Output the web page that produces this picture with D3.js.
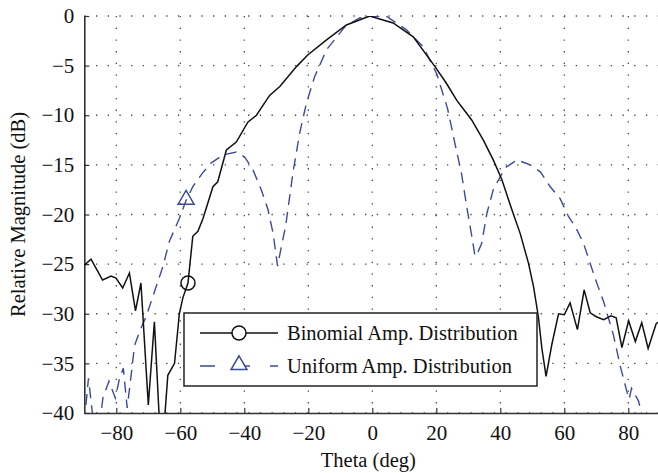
<!DOCTYPE html>
<html>
<head>
<meta charset="utf-8">
<script src="https://cdn.jsdelivr.net/npm/d3@7"></script>
<style>
  body { margin: 0; background: #fff; }
  text { font-family: "Liberation Serif", "Times New Roman", serif; }
</style>
</head>
<body>
<svg width="658" height="473"></svg>
<script>
// Binomial amplitude distribution pattern [theta (deg), dB]
const binomial = [
  [-90, -25.1], [-87.9, -24.5], [-86, -25.6], [-84.3, -26.6], [-81.6, -26.2],
  [-80.1, -26.4], [-78, -27.4], [-75.9, -25.9], [-74, -29.7], [-72.3, -26.9],
  [-70, -39.2], [-68.1, -30.8], [-66.5, -41], [-65, -41], [-63.9, -36.2],
  [-61.8, -35], [-60.3, -30], [-59.2, -28.4], [-57.6, -26.9], [-56.1, -22.2],
  [-54.5, -21.7], [-52.9, -20.4], [-49.8, -17.2], [-48.3, -16.7], [-45.6, -13.5],
  [-42.5, -12.7], [-38.9, -10.7], [-36.2, -10], [-32.1, -8], [-28.9, -7.1],
  [-23.7, -5.1], [-20.1, -3.9], [-14.3, -2.4], [-8.1, -0.9], [-0.8, 0],
  [6.5, -0.7], [12.8, -2.1], [19.6, -5.1], [23.2, -6.8], [26.4, -8.5],
  [29, -9.6], [31.1, -10.5], [34.7, -12.5], [37.8, -14.5], [40.5, -16.5],
  [43.6, -19.5], [46.2, -21.9], [48.8, -24.9], [50.4, -27.3], [51.9, -30.3],
  [53, -33.5], [54.3, -36.3], [56.1, -33.1], [58.2, -30], [60, -30.1],
  [61.8, -28.9], [64.1, -31.6], [66.2, -27.6], [68.1, -29.9], [70, -30.3],
  [72.3, -30.6], [74.6, -30.2], [76.2, -30.4], [78, -33.4], [80.1, -30.7],
  [82.2, -32.8], [84.2, -30.9], [86.2, -33.5], [88.7, -31], [90, -30.7]
];

// Uniform amplitude distribution pattern [theta (deg), dB]
const uniform = [
  [-90, -41], [-88.7, -36.5], [-87.3, -40.5], [-85.5, -42], [-84.2, -38.5],
  [-82.3, -36.8], [-80.3, -38.5], [-79, -36.5], [-77.8, -35.5], [-76.6, -39.5],
  [-75.3, -36], [-74.3, -33.2], [-72.5, -31.6], [-70.7, -30.3], [-68.1, -27.8],
  [-65.5, -25.3], [-63.4, -22.7], [-60.3, -20.4], [-58.2, -18.6], [-56.1, -17.2],
  [-53, -15.8], [-50.3, -14.8], [-46.7, -14], [-42.5, -13.7], [-39.9, -14.2],
  [-37.3, -15.5], [-34.7, -17.5], [-32.6, -19.5], [-31, -21.9], [-29.6, -25.2],
  [-28.4, -23.2], [-27.1, -21.2], [-24.8, -15.8], [-22.7, -11.8], [-20.6, -8.8],
  [-18, -6.1], [-14.3, -3.4], [-8.6, -1.1], [-4, -0.2], [0, 0],
  [4.5, -0.05], [10.7, -1.4], [15.9, -3.1], [20.1, -5.8], [23.5, -9.3],
  [25.8, -12.8], [27.9, -15.9], [29.5, -19.2], [31.1, -22.2], [32.1, -24.2],
  [33, -23.8], [34.2, -22.9], [35.8, -19.9], [37.8, -17.5], [41.5, -15.3],
  [45.2, -14.5], [49.3, -15], [52.5, -15.7], [55.6, -17.2], [58.7, -18.4],
  [61.3, -20.2], [63.4, -21.2], [66, -22.9], [69.7, -26.5], [72.3, -28.8],
  [75.4, -32.2], [77.5, -35.3], [79.6, -37.9], [80.3, -38.6], [81, -37.5],
  [83.2, -38.8], [84.5, -40.5], [86, -42], [90, -44]
];

// single marker per series, as in the original figure
const binomialMarker = [-57.6, -26.9];
const uniformMarker = [-58.2, -18.6];

const xTicks = [-80, -60, -40, -20, 0, 20, 40, 60, 80];
const yTicks = [0, -5, -10, -15, -20, -25, -30, -35, -40];
const seriesNames = ['Binomial Amp. Distribution', 'Uniform Amp. Distribution'];

const blue = '#3c4a9c';
const serif = '"Liberation Serif", "Times New Roman", serif';
const plotLeft = 84.3, plotRight = 660.3, plotTop = 16, plotBottom = 413;

const svg = d3.select('svg');

const x = d3.scaleLinear().domain([-90, 90]).range([plotLeft, plotRight]);
const y = d3.scaleLinear().domain([-40, 0]).range([plotBottom, plotTop]);

svg.append('defs').append('clipPath').attr('id', 'plot')
  .append('rect')
  .attr('x', plotLeft).attr('y', plotTop)
  .attr('width', plotRight - plotLeft).attr('height', plotBottom - plotTop);

// dotted grid
svg.append('g')
  .selectAll('line')
  .data(xTicks)
  .enter().append('line')
  .attr('x1', d => x(d)).attr('x2', d => x(d))
  .attr('y1', plotTop).attr('y2', plotBottom)
  .attr('stroke', '#444').attr('stroke-width', 1.3)
  .attr('stroke-dasharray', '1.3 10.4');

svg.append('g')
  .selectAll('line')
  .data(yTicks)
  .enter().append('line')
  .attr('x1', plotLeft).attr('x2', plotRight)
  .attr('y1', d => y(d)).attr('y2', d => y(d))
  .attr('stroke', '#444').attr('stroke-width', 1.3)
  .attr('stroke-dasharray', '1.3 10.4');

// axes, ticks pointing inward
const xAxis = svg.append('g')
  .attr('transform', `translate(0,${plotBottom})`)
  .call(d3.axisBottom(x).tickValues(xTicks).tickSizeInner(-5).tickSizeOuter(0).tickPadding(12));

const yAxis = svg.append('g')
  .attr('transform', `translate(${plotLeft},0)`)
  .call(d3.axisLeft(y).tickValues(yTicks).tickSizeInner(-5).tickSizeOuter(0).tickPadding(10));

[xAxis, yAxis].forEach(a => {
  a.attr('font-family', serif).attr('font-size', 21);
  a.select('.domain').attr('stroke', '#333').attr('stroke-width', 1.6);
  a.selectAll('.tick line').attr('stroke', '#333').attr('stroke-width', 1.2);
  a.selectAll('.tick text').attr('fill', '#111');
});

// curves
const line = d3.line().x(d => x(d[0])).y(d => y(d[1]));

const curves = svg.append('g').attr('clip-path', 'url(#plot)');

curves.append('path')
  .datum(uniform)
  .attr('d', line)
  .attr('fill', 'none')
  .attr('stroke', blue)
  .attr('stroke-width', 1.4)
  .attr('stroke-dasharray', '11 7');

curves.append('path')
  .datum(binomial)
  .attr('d', line)
  .attr('fill', 'none')
  .attr('stroke', '#111')
  .attr('stroke-width', 1.5);

// markers
const triangle = d3.symbol().type(d3.symbolTriangle).size(110);

svg.append('circle')
  .attr('cx', x(binomialMarker[0])).attr('cy', y(binomialMarker[1]))
  .attr('r', 7)
  .attr('fill', 'none').attr('stroke', '#111').attr('stroke-width', 1.5);

svg.append('path')
  .attr('d', triangle)
  .attr('transform', `translate(${x(uniformMarker[0])},${y(uniformMarker[1]) - 1})`)
  .attr('fill', 'none').attr('stroke', blue).attr('stroke-width', 1.5);

// legend
const legend = svg.append('g');

legend.append('rect')
  .attr('x', 184).attr('y', 313)
  .attr('width', 353).attr('height', 73)
  .attr('fill', '#fff').attr('stroke', '#222').attr('stroke-width', 1.5);

const rows = legend.selectAll('.row')
  .data(seriesNames)
  .enter().append('g')
  .attr('class', 'row')
  .attr('transform', (d, i) => `translate(0,${333 + i * 33})`);

rows.append('line')
  .attr('x1', 200).attr('x2', 278)
  .attr('y1', 0).attr('y2', 0)
  .attr('stroke', (d, i) => i === 0 ? '#111' : blue)
  .attr('stroke-width', (d, i) => i === 0 ? 1.5 : 1.4)
  .attr('stroke-dasharray', (d, i) => i === 0 ? null : '15 20');

rows.filter((d, i) => i === 0).append('circle')
  .attr('cx', 239).attr('cy', 0).attr('r', 7)
  .attr('fill', '#fff').attr('stroke', '#111').attr('stroke-width', 1.5);

rows.filter((d, i) => i === 1).append('path')
  .attr('d', triangle)
  .attr('transform', 'translate(239,-1)')
  .attr('fill', '#fff').attr('stroke', blue).attr('stroke-width', 1.5);

rows.append('text')
  .attr('x', 287).attr('y', 7)
  .attr('font-family', serif)
  .attr('font-size', 20.5)
  .attr('fill', '#111')
  .text(d => d);

// axis titles
svg.append('text')
  .attr('x', (plotLeft + plotRight) / 2 - 4).attr('y', 467)
  .attr('text-anchor', 'middle')
  .attr('font-family', serif)
  .attr('font-size', 20.5)
  .attr('fill', '#111')
  .text('Theta (deg)');

svg.append('text')
  .attr('transform', `translate(25,${(plotTop + plotBottom) / 2}) rotate(-90)`)
  .attr('text-anchor', 'middle')
  .attr('font-family', serif)
  .attr('font-size', 20.5)
  .attr('fill', '#111')
  .text('Relative Magnitude (dB)');
</script>
</body>
</html>
